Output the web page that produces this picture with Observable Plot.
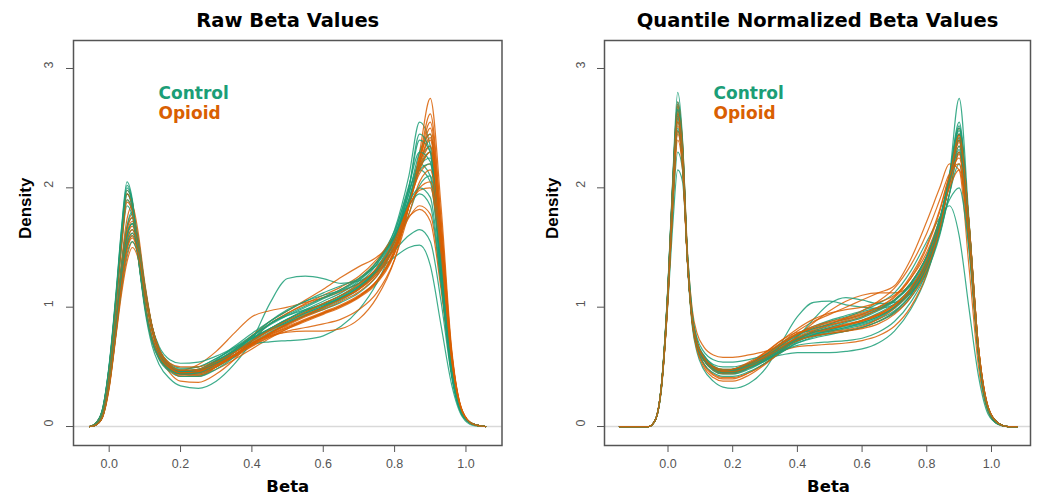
<!DOCTYPE html>
<html>
<head>
<meta charset="utf-8">
<script src="https://cdn.jsdelivr.net/npm/d3@7"></script>
<script src="https://cdn.jsdelivr.net/npm/@observablehq/plot@0.6"></script>
<style>
  html, body { margin: 0; padding: 0; background: #fff; overflow: hidden; }
  #wrap { display: flex; width: 1037px; height: 495px; }
</style>
</head>
<body>
<div id="wrap"></div>
<script>
// ---------- data ----------
const groups = ["Control", "Opioid"];
const groupColors = ["#1b9e77", "#d95f02"];
const xTicks = [0, 0.2, 0.4, 0.6, 0.8, 1.0];
const yTicks = [0, 1, 2, 3];
const titles = ["Raw Beta Values", "Quantile Normalized Beta Values"];

// Beta grid for the raw panel
const xRaw = [-0.055, -0.04, -0.02, 0.00, 0.02, 0.035, 0.05, 0.065, 0.08, 0.10, 0.12, 0.14, 0.17, 0.20, 0.25, 0.30, 0.35, 0.40, 0.45, 0.50, 0.55, 0.60, 0.65, 0.70, 0.75, 0.80, 0.84, 0.87, 0.90, 0.93, 0.96, 0.99, 1.02, 1.055];

const rawControl = [
  [0, 0.02, 0.13, 0.52, 1.15, 1.68, 2.05, 1.9, 1.52, 1.05, 0.75, 0.6, 0.5, 0.47, 0.48, 0.55, 0.64, 0.74, 0.82, 0.9, 0.97, 1.03, 1.1, 1.2, 1.36, 1.65, 2.1, 2.55, 2.35, 1.25, 0.42, 0.1, 0.02, 0],
  [0, 0.02, 0.12, 0.5, 1.12, 1.64, 2.0, 1.88, 1.5, 1.04, 0.74, 0.59, 0.49, 0.45, 0.46, 0.52, 0.6, 0.7, 0.79, 0.86, 0.93, 0.99, 1.06, 1.15, 1.3, 1.58, 1.95, 2.3, 2.45, 1.5, 0.52, 0.12, 0.02, 0],
  [0, 0.02, 0.12, 0.48, 1.08, 1.58, 1.95, 1.82, 1.45, 0.98, 0.68, 0.52, 0.4, 0.34, 0.32, 0.38, 0.52, 0.72, 1.03, 1.24, 1.26, 1.24, 1.2, 1.22, 1.3, 1.42, 1.5, 1.52, 1.35, 0.85, 0.35, 0.08, 0.01, 0],
  [0, 0.02, 0.12, 0.48, 1.06, 1.55, 1.9, 1.8, 1.45, 1.02, 0.74, 0.6, 0.5, 0.46, 0.47, 0.55, 0.63, 0.69, 0.71, 0.72, 0.73, 0.76, 0.84, 0.98, 1.2, 1.55, 1.95, 2.2, 2.1, 1.25, 0.45, 0.1, 0.02, 0],
  [0, 0.01, 0.08, 0.38, 0.9, 1.35, 1.68, 1.8, 1.6, 1.18, 0.84, 0.64, 0.5, 0.44, 0.44, 0.5, 0.59, 0.69, 0.78, 0.86, 0.93, 1.0, 1.07, 1.16, 1.3, 1.55, 1.9, 2.22, 2.35, 1.45, 0.5, 0.1, 0.02, 0],
  [0, 0.01, 0.09, 0.4, 0.92, 1.36, 1.66, 1.75, 1.56, 1.15, 0.82, 0.63, 0.5, 0.45, 0.46, 0.53, 0.62, 0.72, 0.82, 0.9, 0.98, 1.05, 1.12, 1.22, 1.38, 1.64, 1.98, 2.15, 2.05, 1.3, 0.46, 0.1, 0.02, 0],
  [0, 0.01, 0.08, 0.37, 0.86, 1.28, 1.56, 1.65, 1.5, 1.12, 0.8, 0.62, 0.5, 0.46, 0.48, 0.56, 0.67, 0.78, 0.88, 0.97, 1.05, 1.12, 1.18, 1.24, 1.35, 1.48, 1.6, 1.65, 1.55, 1.05, 0.42, 0.1, 0.02, 0],
  [0, 0.01, 0.08, 0.36, 0.84, 1.24, 1.5, 1.6, 1.48, 1.14, 0.84, 0.65, 0.52, 0.48, 0.5, 0.57, 0.65, 0.74, 0.82, 0.9, 0.97, 1.03, 1.1, 1.18, 1.3, 1.5, 1.78, 2.02, 2.1, 1.4, 0.5, 0.11, 0.02, 0],
  [0, 0.02, 0.13, 0.5, 1.1, 1.6, 1.95, 1.84, 1.46, 1.0, 0.71, 0.56, 0.46, 0.42, 0.42, 0.48, 0.58, 0.72, 0.86, 0.93, 0.98, 1.02, 1.08, 1.16, 1.3, 1.56, 1.9, 2.18, 2.25, 1.42, 0.5, 0.11, 0.02, 0],
  [0, 0.01, 0.07, 0.34, 0.8, 1.18, 1.45, 1.55, 1.45, 1.12, 0.83, 0.65, 0.53, 0.49, 0.5, 0.57, 0.66, 0.76, 0.86, 0.94, 1.01, 1.08, 1.15, 1.24, 1.38, 1.6, 1.85, 1.95, 1.85, 1.2, 0.45, 0.1, 0.02, 0],
  [0, 0.02, 0.13, 0.51, 1.13, 1.66, 2.02, 1.88, 1.5, 1.03, 0.73, 0.58, 0.48, 0.45, 0.46, 0.53, 0.62, 0.72, 0.81, 0.88, 0.95, 1.01, 1.08, 1.17, 1.32, 1.6, 2.0, 2.4, 2.3, 1.35, 0.47, 0.1, 0.02, 0],
  [0, 0.01, 0.08, 0.37, 0.87, 1.3, 1.6, 1.7, 1.54, 1.15, 0.84, 0.67, 0.56, 0.53, 0.54, 0.59, 0.66, 0.74, 0.81, 0.87, 0.93, 0.98, 1.04, 1.12, 1.26, 1.52, 1.86, 2.18, 2.3, 1.45, 0.5, 0.1, 0.02, 0],
  [0, 0.02, 0.11, 0.46, 1.04, 1.52, 1.85, 1.76, 1.44, 1.02, 0.74, 0.6, 0.5, 0.46, 0.47, 0.54, 0.63, 0.73, 0.82, 0.89, 0.96, 1.02, 1.09, 1.18, 1.33, 1.62, 2.02, 2.3, 2.22, 1.3, 0.45, 0.1, 0.02, 0],
  [0, 0.01, 0.08, 0.37, 0.88, 1.31, 1.6, 1.7, 1.55, 1.16, 0.83, 0.64, 0.51, 0.46, 0.47, 0.54, 0.63, 0.72, 0.81, 0.88, 0.95, 1.01, 1.08, 1.17, 1.31, 1.56, 1.9, 2.15, 2.2, 1.42, 0.5, 0.11, 0.02, 0],
  [0, 0.02, 0.12, 0.5, 1.1, 1.62, 1.98, 1.86, 1.48, 1.01, 0.72, 0.57, 0.47, 0.44, 0.45, 0.52, 0.62, 0.75, 0.88, 0.98, 1.05, 1.1, 1.14, 1.2, 1.32, 1.58, 2.0, 2.45, 2.3, 1.3, 0.45, 0.1, 0.02, 0],
  [0, 0.01, 0.08, 0.36, 0.85, 1.26, 1.53, 1.62, 1.5, 1.14, 0.83, 0.64, 0.51, 0.47, 0.48, 0.55, 0.64, 0.75, 0.85, 0.93, 1.0, 1.07, 1.14, 1.23, 1.36, 1.6, 1.88, 2.0, 1.92, 1.22, 0.45, 0.1, 0.02, 0]
];

const rawOpioid = [
  [0, 0.02, 0.12, 0.48, 1.08, 1.6, 1.98, 1.88, 1.5, 1.03, 0.73, 0.58, 0.48, 0.44, 0.45, 0.5, 0.58, 0.67, 0.75, 0.82, 0.88, 0.94, 1.0, 1.08, 1.2, 1.45, 1.85, 2.3, 2.75, 1.85, 0.65, 0.13, 0.02, 0],
  [0, 0.02, 0.12, 0.47, 1.05, 1.55, 1.9, 1.82, 1.48, 1.03, 0.74, 0.59, 0.49, 0.45, 0.46, 0.52, 0.6, 0.69, 0.77, 0.84, 0.9, 0.96, 1.02, 1.1, 1.22, 1.46, 1.85, 2.25, 2.62, 1.75, 0.62, 0.13, 0.02, 0],
  [0, 0.01, 0.09, 0.4, 0.93, 1.4, 1.74, 1.85, 1.65, 1.2, 0.85, 0.64, 0.5, 0.44, 0.43, 0.48, 0.56, 0.65, 0.74, 0.82, 0.89, 0.95, 1.01, 1.09, 1.22, 1.48, 1.86, 2.22, 2.5, 1.65, 0.6, 0.12, 0.02, 0],
  [0, 0.01, 0.08, 0.38, 0.9, 1.35, 1.67, 1.78, 1.6, 1.18, 0.84, 0.64, 0.5, 0.44, 0.43, 0.5, 0.6, 0.7, 0.76, 0.79, 0.8, 0.8, 0.82, 0.9, 1.08, 1.4, 1.85, 2.25, 2.45, 1.6, 0.58, 0.12, 0.02, 0],
  [0, 0.01, 0.08, 0.37, 0.88, 1.32, 1.62, 1.72, 1.55, 1.15, 0.82, 0.62, 0.48, 0.42, 0.42, 0.5, 0.62, 0.76, 0.88, 0.97, 1.06, 1.15, 1.25, 1.34, 1.42, 1.58, 1.88, 2.2, 2.4, 1.55, 0.55, 0.12, 0.02, 0],
  [0, 0.01, 0.08, 0.36, 0.85, 1.28, 1.58, 1.68, 1.52, 1.14, 0.82, 0.63, 0.5, 0.45, 0.46, 0.54, 0.64, 0.76, 0.86, 0.95, 1.03, 1.1, 1.17, 1.26, 1.4, 1.6, 1.76, 1.82, 1.72, 1.15, 0.45, 0.1, 0.02, 0],
  [0, 0.01, 0.07, 0.35, 0.83, 1.24, 1.52, 1.62, 1.5, 1.14, 0.83, 0.64, 0.51, 0.46, 0.47, 0.53, 0.62, 0.71, 0.8, 0.87, 0.94, 1.0, 1.07, 1.15, 1.28, 1.52, 1.85, 2.15, 2.3, 1.55, 0.56, 0.12, 0.02, 0],
  [0, 0.01, 0.07, 0.33, 0.8, 1.15, 1.42, 1.55, 1.45, 1.12, 0.8, 0.6, 0.45, 0.38, 0.37, 0.44, 0.56, 0.72, 0.86, 0.95, 1.02, 1.08, 1.15, 1.24, 1.38, 1.6, 1.85, 1.98, 2.0, 1.4, 0.52, 0.11, 0.02, 0],
  [0, 0.01, 0.07, 0.32, 0.78, 1.12, 1.38, 1.5, 1.42, 1.1, 0.8, 0.62, 0.5, 0.47, 0.52, 0.63, 0.78, 0.92, 0.97, 1.0, 1.04, 1.08, 1.13, 1.2, 1.32, 1.5, 1.75, 1.85, 1.78, 1.2, 0.47, 0.1, 0.02, 0],
  [0, 0.02, 0.12, 0.49, 1.1, 1.6, 1.95, 1.85, 1.48, 1.02, 0.72, 0.57, 0.47, 0.43, 0.44, 0.5, 0.59, 0.69, 0.78, 0.86, 0.93, 1.0, 1.07, 1.16, 1.3, 1.55, 1.88, 2.12, 2.2, 1.5, 0.55, 0.12, 0.02, 0],
  [0, 0.01, 0.08, 0.37, 0.87, 1.3, 1.6, 1.7, 1.55, 1.16, 0.84, 0.65, 0.53, 0.5, 0.5, 0.55, 0.62, 0.7, 0.77, 0.83, 0.89, 0.95, 1.01, 1.09, 1.22, 1.48, 1.85, 2.2, 2.42, 1.62, 0.6, 0.12, 0.02, 0],
  [0, 0.01, 0.07, 0.34, 0.82, 1.22, 1.5, 1.6, 1.48, 1.13, 0.82, 0.63, 0.5, 0.45, 0.46, 0.52, 0.6, 0.69, 0.78, 0.86, 0.93, 1.0, 1.07, 1.15, 1.28, 1.52, 1.86, 2.18, 2.35, 1.6, 0.58, 0.12, 0.02, 0],
  [0, 0.01, 0.08, 0.38, 0.89, 1.33, 1.65, 1.75, 1.58, 1.17, 0.84, 0.64, 0.5, 0.45, 0.45, 0.51, 0.59, 0.68, 0.76, 0.83, 0.89, 0.95, 1.01, 1.09, 1.21, 1.46, 1.84, 2.24, 2.55, 1.72, 0.62, 0.13, 0.02, 0],
  [0, 0.02, 0.11, 0.46, 1.04, 1.53, 1.88, 1.8, 1.47, 1.03, 0.74, 0.59, 0.49, 0.45, 0.46, 0.52, 0.6, 0.69, 0.78, 0.85, 0.92, 0.98, 1.05, 1.13, 1.26, 1.5, 1.86, 2.16, 2.3, 1.58, 0.58, 0.12, 0.02, 0],
  [0, 0.01, 0.08, 0.36, 0.84, 1.26, 1.55, 1.65, 1.52, 1.15, 0.84, 0.65, 0.52, 0.47, 0.47, 0.52, 0.6, 0.68, 0.75, 0.8, 0.83, 0.86, 0.9, 0.98, 1.12, 1.4, 1.78, 2.05, 2.15, 1.52, 0.57, 0.12, 0.02, 0],
  [0, 0.01, 0.07, 0.34, 0.81, 1.2, 1.48, 1.58, 1.47, 1.13, 0.83, 0.64, 0.51, 0.47, 0.48, 0.54, 0.62, 0.72, 0.81, 0.89, 0.96, 1.03, 1.1, 1.19, 1.33, 1.56, 1.85, 2.0, 2.05, 1.45, 0.55, 0.12, 0.02, 0]
];

// Beta grid for the quantile-normalized panel
const xNorm = [-0.15, -0.06, -0.04, -0.02, 0.00, 0.015, 0.03, 0.045, 0.06, 0.075, 0.09, 0.11, 0.14, 0.17, 0.20, 0.25, 0.30, 0.35, 0.40, 0.45, 0.50, 0.55, 0.60, 0.65, 0.70, 0.75, 0.80, 0.84, 0.87, 0.90, 0.93, 0.96, 0.99, 1.02, 1.05, 1.08];

const normControl = [
  [0, 0, 0.05, 0.36, 1.2, 2.1, 2.8, 2.4, 1.42, 0.88, 0.68, 0.56, 0.48, 0.45, 0.45, 0.49, 0.55, 0.62, 0.7, 0.75, 0.78, 0.8, 0.83, 0.88, 0.95, 1.08, 1.3, 1.65, 2.1, 2.75, 1.75, 0.6, 0.13, 0.02, 0, 0],
  [0, 0, 0.05, 0.35, 1.17, 2.05, 2.7, 2.35, 1.42, 0.9, 0.7, 0.58, 0.5, 0.47, 0.47, 0.51, 0.57, 0.65, 0.72, 0.77, 0.8, 0.83, 0.86, 0.91, 0.99, 1.12, 1.36, 1.72, 2.1, 2.55, 1.7, 0.62, 0.14, 0.03, 0, 0],
  [0, 0, 0.05, 0.35, 1.15, 2.0, 2.65, 2.28, 1.38, 0.84, 0.62, 0.48, 0.38, 0.33, 0.32, 0.36, 0.48, 0.7, 0.92, 1.04, 1.05, 1.02, 1.0, 0.99, 1.02, 1.12, 1.33, 1.62, 1.95, 2.2, 1.5, 0.58, 0.14, 0.03, 0, 0],
  [0, 0, 0.05, 0.35, 1.14, 1.98, 2.6, 2.28, 1.4, 0.9, 0.7, 0.6, 0.52, 0.5, 0.5, 0.53, 0.57, 0.6, 0.62, 0.62, 0.62, 0.63, 0.65, 0.7, 0.8, 0.98, 1.27, 1.65, 2.05, 2.45, 1.68, 0.63, 0.15, 0.03, 0, 0],
  [0, 0, 0.05, 0.34, 1.1, 1.93, 2.55, 2.22, 1.38, 0.88, 0.68, 0.56, 0.47, 0.44, 0.44, 0.48, 0.55, 0.64, 0.75, 0.9, 1.03, 1.08, 1.06, 1.03, 1.04, 1.12, 1.3, 1.6, 1.95, 2.3, 1.58, 0.6, 0.14, 0.03, 0, 0],
  [0, 0, 0.05, 0.32, 1.05, 1.7, 2.15, 2.05, 1.45, 0.95, 0.72, 0.6, 0.51, 0.48, 0.48, 0.52, 0.58, 0.66, 0.73, 0.78, 0.81, 0.84, 0.87, 0.92, 1.0, 1.13, 1.36, 1.7, 2.05, 2.4, 1.62, 0.62, 0.15, 0.03, 0, 0],
  [0, 0, 0.05, 0.35, 1.15, 2.0, 2.62, 2.3, 1.4, 0.9, 0.7, 0.58, 0.5, 0.47, 0.48, 0.53, 0.6, 0.7, 0.78, 0.84, 0.89, 0.93, 0.97, 1.03, 1.12, 1.3, 1.55, 1.75, 1.85, 1.6, 1.0, 0.42, 0.1, 0.02, 0, 0],
  [0, 0, 0.05, 0.36, 1.18, 2.05, 2.68, 2.32, 1.4, 0.87, 0.66, 0.53, 0.45, 0.42, 0.42, 0.46, 0.53, 0.62, 0.71, 0.77, 0.81, 0.85, 0.89, 0.95, 1.03, 1.16, 1.38, 1.7, 2.08, 2.5, 1.68, 0.6, 0.13, 0.02, 0, 0],
  [0, 0, 0.05, 0.34, 1.1, 1.92, 2.5, 2.2, 1.4, 0.9, 0.7, 0.58, 0.5, 0.47, 0.48, 0.53, 0.6, 0.69, 0.77, 0.83, 0.88, 0.92, 0.96, 1.0, 1.06, 1.18, 1.4, 1.7, 2.02, 2.35, 1.62, 0.62, 0.15, 0.03, 0, 0],
  [0, 0, 0.05, 0.33, 1.08, 1.82, 2.3, 2.15, 1.45, 0.93, 0.7, 0.57, 0.49, 0.46, 0.46, 0.5, 0.57, 0.66, 0.74, 0.8, 0.84, 0.88, 0.92, 0.98, 1.06, 1.2, 1.42, 1.68, 1.9, 2.0, 1.5, 0.62, 0.15, 0.03, 0, 0],
  [0, 0, 0.05, 0.35, 1.14, 1.98, 2.6, 2.28, 1.4, 0.89, 0.69, 0.57, 0.49, 0.46, 0.46, 0.5, 0.56, 0.63, 0.68, 0.7, 0.71, 0.72, 0.74, 0.79, 0.88, 1.04, 1.3, 1.68, 2.08, 2.45, 1.7, 0.65, 0.15, 0.03, 0, 0],
  [0, 0, 0.05, 0.36, 1.18, 2.08, 2.72, 2.36, 1.45, 0.93, 0.74, 0.63, 0.56, 0.54, 0.54, 0.56, 0.6, 0.66, 0.72, 0.76, 0.79, 0.82, 0.85, 0.9, 0.97, 1.1, 1.33, 1.68, 2.05, 2.4, 1.62, 0.6, 0.14, 0.03, 0, 0],
  [0, 0, 0.05, 0.35, 1.15, 2.02, 2.65, 2.3, 1.4, 0.89, 0.69, 0.57, 0.49, 0.46, 0.46, 0.5, 0.56, 0.64, 0.72, 0.77, 0.8, 0.83, 0.87, 0.92, 1.0, 1.14, 1.38, 1.72, 2.1, 2.48, 1.7, 0.63, 0.15, 0.03, 0, 0],
  [0, 0, 0.05, 0.34, 1.12, 1.96, 2.58, 2.26, 1.4, 0.89, 0.69, 0.57, 0.49, 0.46, 0.47, 0.52, 0.59, 0.68, 0.76, 0.82, 0.86, 0.9, 0.94, 0.99, 1.06, 1.2, 1.43, 1.74, 2.08, 2.42, 1.68, 0.64, 0.15, 0.03, 0, 0],
  [0, 0, 0.05, 0.35, 1.16, 2.03, 2.66, 2.31, 1.41, 0.89, 0.68, 0.56, 0.48, 0.45, 0.45, 0.49, 0.55, 0.63, 0.7, 0.74, 0.77, 0.8, 0.83, 0.88, 0.96, 1.1, 1.34, 1.7, 2.1, 2.52, 1.72, 0.63, 0.14, 0.03, 0, 0],
  [0, 0, 0.05, 0.34, 1.1, 1.9, 2.48, 2.2, 1.4, 0.9, 0.7, 0.58, 0.5, 0.47, 0.47, 0.51, 0.57, 0.65, 0.73, 0.79, 0.83, 0.87, 0.91, 0.97, 1.05, 1.19, 1.42, 1.74, 2.06, 2.32, 1.62, 0.62, 0.15, 0.03, 0, 0]
];

const normOpioid = [
  [0, 0, 0.05, 0.36, 1.18, 2.06, 2.72, 2.38, 1.48, 0.98, 0.78, 0.67, 0.6, 0.58, 0.58, 0.6, 0.63, 0.68, 0.73, 0.76, 0.78, 0.8, 0.83, 0.88, 0.96, 1.1, 1.35, 1.7, 2.08, 2.5, 1.72, 0.65, 0.15, 0.03, 0, 0],
  [0, 0, 0.05, 0.35, 1.16, 2.04, 2.7, 2.34, 1.42, 0.88, 0.66, 0.53, 0.44, 0.41, 0.41, 0.45, 0.53, 0.64, 0.76, 0.87, 0.97, 1.05, 1.1, 1.12, 1.12, 1.18, 1.35, 1.62, 1.95, 2.3, 1.6, 0.6, 0.14, 0.03, 0, 0],
  [0, 0, 0.05, 0.35, 1.15, 2.02, 2.66, 2.32, 1.42, 0.9, 0.7, 0.58, 0.5, 0.47, 0.47, 0.52, 0.6, 0.7, 0.8, 0.88, 0.94, 1.0, 1.06, 1.12, 1.18, 1.4, 1.72, 2.0, 2.2, 2.15, 1.35, 0.5, 0.12, 0.02, 0, 0],
  [0, 0, 0.05, 0.35, 1.14, 2.0, 2.62, 2.28, 1.4, 0.88, 0.68, 0.56, 0.47, 0.44, 0.44, 0.49, 0.56, 0.63, 0.67, 0.68, 0.69, 0.7, 0.72, 0.76, 0.84, 1.0, 1.28, 1.66, 2.06, 2.45, 1.72, 0.66, 0.16, 0.03, 0, 0],
  [0, 0, 0.05, 0.35, 1.13, 1.98, 2.6, 2.27, 1.4, 0.89, 0.69, 0.57, 0.49, 0.46, 0.46, 0.5, 0.57, 0.66, 0.74, 0.79, 0.82, 0.85, 0.88, 0.93, 1.01, 1.15, 1.38, 1.7, 2.06, 2.42, 1.68, 0.64, 0.15, 0.03, 0, 0],
  [0, 0, 0.05, 0.34, 1.12, 1.96, 2.56, 2.25, 1.4, 0.87, 0.65, 0.52, 0.43, 0.4, 0.4, 0.45, 0.53, 0.63, 0.73, 0.8, 0.85, 0.89, 0.93, 0.98, 1.06, 1.2, 1.43, 1.73, 2.05, 2.35, 1.65, 0.64, 0.15, 0.03, 0, 0],
  [0, 0, 0.05, 0.34, 1.1, 1.93, 2.52, 2.22, 1.4, 0.9, 0.7, 0.58, 0.5, 0.47, 0.47, 0.51, 0.58, 0.67, 0.75, 0.81, 0.86, 0.91, 0.97, 1.05, 1.16, 1.35, 1.62, 1.9, 2.12, 2.2, 1.55, 0.6, 0.14, 0.03, 0, 0],
  [0, 0, 0.05, 0.34, 1.09, 1.9, 2.48, 2.2, 1.4, 0.9, 0.7, 0.58, 0.5, 0.48, 0.48, 0.52, 0.58, 0.66, 0.74, 0.79, 0.82, 0.85, 0.88, 0.93, 1.0, 1.13, 1.36, 1.68, 2.04, 2.4, 1.7, 0.66, 0.16, 0.03, 0, 0],
  [0, 0, 0.05, 0.34, 1.08, 1.88, 2.45, 2.18, 1.4, 0.9, 0.7, 0.58, 0.5, 0.47, 0.48, 0.54, 0.62, 0.72, 0.82, 0.9, 0.95, 0.98, 1.0, 1.04, 1.1, 1.24, 1.46, 1.74, 2.0, 2.15, 1.55, 0.62, 0.15, 0.03, 0, 0],
  [0, 0, 0.05, 0.33, 1.07, 1.85, 2.4, 2.15, 1.38, 0.86, 0.64, 0.5, 0.41, 0.38, 0.38, 0.43, 0.52, 0.63, 0.73, 0.79, 0.83, 0.86, 0.89, 0.94, 1.02, 1.15, 1.38, 1.7, 2.08, 2.45, 1.72, 0.66, 0.16, 0.03, 0, 0],
  [0, 0, 0.05, 0.35, 1.16, 2.03, 2.68, 2.33, 1.42, 0.89, 0.68, 0.56, 0.48, 0.45, 0.45, 0.5, 0.58, 0.68, 0.77, 0.82, 0.85, 0.88, 0.92, 0.98, 1.06, 1.2, 1.43, 1.72, 2.02, 2.28, 1.6, 0.62, 0.15, 0.03, 0, 0],
  [0, 0, 0.05, 0.35, 1.12, 1.97, 2.58, 2.26, 1.4, 0.88, 0.68, 0.56, 0.48, 0.45, 0.46, 0.52, 0.62, 0.72, 0.79, 0.8, 0.8, 0.81, 0.84, 0.9, 0.99, 1.14, 1.38, 1.7, 2.05, 2.38, 1.66, 0.63, 0.15, 0.03, 0, 0],
  [0, 0, 0.05, 0.35, 1.14, 2.0, 2.64, 2.3, 1.41, 0.89, 0.68, 0.56, 0.48, 0.45, 0.45, 0.5, 0.57, 0.66, 0.74, 0.79, 0.82, 0.85, 0.89, 0.94, 1.02, 1.16, 1.4, 1.72, 2.08, 2.4, 1.7, 0.66, 0.16, 0.03, 0, 0],
  [0, 0, 0.05, 0.34, 1.11, 1.95, 2.55, 2.24, 1.4, 0.89, 0.69, 0.57, 0.49, 0.46, 0.46, 0.51, 0.59, 0.69, 0.78, 0.84, 0.88, 0.91, 0.95, 1.0, 1.08, 1.24, 1.5, 1.8, 2.1, 2.3, 1.62, 0.63, 0.15, 0.03, 0, 0],
  [0, 0, 0.05, 0.35, 1.15, 2.01, 2.62, 2.3, 1.42, 0.9, 0.7, 0.58, 0.5, 0.47, 0.47, 0.51, 0.57, 0.65, 0.72, 0.76, 0.78, 0.8, 0.82, 0.86, 0.94, 1.08, 1.32, 1.66, 2.06, 2.44, 1.72, 0.66, 0.16, 0.03, 0, 0],
  [0, 0, 0.05, 0.34, 1.09, 1.89, 2.47, 2.2, 1.4, 0.9, 0.7, 0.58, 0.5, 0.47, 0.48, 0.53, 0.61, 0.7, 0.78, 0.83, 0.87, 0.9, 0.94, 1.0, 1.09, 1.26, 1.52, 1.82, 2.1, 2.25, 1.6, 0.63, 0.15, 0.03, 0, 0]
];

// ---------- build tidy rows (interleave samples of both groups) ----------
function rows(xs, control, opioid) {
  const out = [];
  const n = Math.max(control.length, opioid.length);
  for (let k = 0; k < n; k++) {
    [[control[k], groups[0]], [opioid[k], groups[1]]].forEach(([ys, g]) => {
      if (!ys) return;
      ys.forEach((y, i) => out.push({ id: g + k, group: g, x: xs[i], y }));
    });
  }
  return out;
}

const boldWide = "DejaVu Sans, Verdana, sans-serif";
const arial = "Liberation Sans, Arial, Helvetica, sans-serif";

function panel({ data, width, marginLeft, marginRight, xDomain, title, yLabelDx, yTickDx, legendDx, betaDx }) {
  return Plot.plot({
    width, height: 495,
    marginLeft, marginRight, marginTop: 40, marginBottom: 50,
    style: { fontFamily: arial, fontSize: "12.5px", color: "#555", background: "#fff", overflow: "visible" },
    x: { domain: xDomain, ticks: xTicks, tickSize: 7, tickPadding: 7, tickFormat: d3.format(".1f"), label: null },
    y: { domain: [-0.159, 3.2346], ticks: yTicks, tickSize: 7, tickFormat: () => "", label: null },
    color: { domain: groups, range: groupColors },
    marks: [
      Plot.ruleY([0], { stroke: "#d9d9d9", strokeWidth: 1.5 }),
      Plot.line(data, { x: "x", y: "y", z: "id", stroke: "group", curve: "monotone-x", strokeWidth: 1.2, strokeOpacity: 0.85 }),
      Plot.frame({ stroke: "#555", strokeWidth: 1.5 }),
      Plot.text(yTicks, { y: d => d, text: d => String(d), frameAnchor: "left", dx: yTickDx, rotate: -90, fontSize: 12.5, fill: "#555" }),
      Plot.text([title], { frameAnchor: "top", lineAnchor: "middle", dy: -20, fontFamily: boldWide, fontWeight: "bold", fontSize: 19.5, fill: "#000" }),
      Plot.text(["Beta"], { frameAnchor: "bottom", lineAnchor: "middle", dy: 41, dx: betaDx, fontFamily: boldWide, fontWeight: "bold", fontSize: 16.5, fill: "#000" }),
      Plot.text(["Density"], { frameAnchor: "left", lineAnchor: "middle", dx: yLabelDx, dy: -4, rotate: -90, fontFamily: arial, fontWeight: "bold", fontSize: 17, fill: "#000" }),
      Plot.text([groups[0]], { frameAnchor: "top-left", lineAnchor: "middle", dx: legendDx, dy: 53, textAnchor: "start", fontFamily: boldWide, fontWeight: "bold", fontSize: 17, fill: groupColors[0] }),
      Plot.text([groups[1]], { frameAnchor: "top-left", lineAnchor: "middle", dx: legendDx, dy: 73, textAnchor: "start", fontFamily: boldWide, fontWeight: "bold", fontSize: 17, fill: groupColors[1] })
    ]
  });
}

const wrap = document.getElementById("wrap");
wrap.append(panel({
  data: rows(xRaw, rawControl, rawOpioid),
  width: 518, marginLeft: 73, marginRight: 16.5,
  xDomain: [-0.1, 1.101], title: titles[0],
  yLabelDx: -48, yTickDx: -25, legendDx: 85, betaDx: 0
}));
wrap.append(panel({
  data: rows(xNorm, normControl, normOpioid),
  width: 519, marginLeft: 86, marginRight: 7,
  xDomain: [-0.1963, 1.1206], title: titles[1],
  yLabelDx: -52, yTickDx: -24, legendDx: 109, betaDx: 11
}));
</script>
</body>
</html>
